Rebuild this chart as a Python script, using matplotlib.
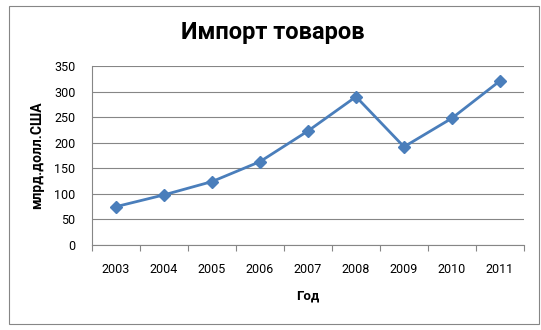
import numpy as np
import matplotlib
matplotlib.use('Agg')
import matplotlib.pyplot as plt
from matplotlib.patches import Rectangle

plt.rcParams['font.family'] = ['Roboto', 'DejaVu Sans']

# data
years = ['2003', '2004', '2005', '2006', '2007', '2008', '2009', '2010', '2011']
imports = [75, 98, 124, 163, 223, 290, 192, 248, 321]

W, H = 541, 330
fig = plt.figure(figsize=(W / 100, H / 100), dpi=100)

# outer chart border
fig.patches.append(Rectangle((8.5 / W, 1 - 323.5 / H), 530 / W, 318 / H,
                             transform=fig.transFigure, fill=False,
                             edgecolor='#868686', linewidth=0.8))

left, right, top, bottom = 92, 524, 66, 245
ax = fig.add_axes([left / W, 1 - bottom / H, (right - left) / W, (bottom - top) / H])

x = np.arange(len(years))
ax.plot(x, imports, color='#4a7ebb', linewidth=2.0, marker='D', markersize=6,
        markerfacecolor='#4a7ebb', markeredgecolor='#4a7ebb', zorder=5, clip_on=False)

ax.set_xlim(-0.5, len(years) - 0.5)
ax.set_ylim(0, 350)
ax.set_yticks(np.arange(0, 351, 50))
ax.set_xticks(x)
ax.set_xticklabels(years)
ax.set_xticks(np.arange(-0.5, len(years), 1), minor=True)

ax.grid(axis='y', color='#868686', linewidth=0.8)
ax.set_axisbelow(True)
for s in ['top', 'right']:
    ax.spines[s].set_visible(False)
for s in ['left', 'bottom']:
    ax.spines[s].set_color('#868686')
    ax.spines[s].set_linewidth(0.8)

ax.tick_params(axis='x', which='major', length=0, pad=13, labelsize=9)
ax.tick_params(axis='x', which='minor', length=4, color='#868686', width=0.8)
ax.tick_params(axis='y', length=0, pad=12, labelsize=9)

ax.set_xlabel('Год', fontsize=9.5, fontweight='bold', labelpad=10)
ax.set_ylabel('млрд.долл.США', fontsize=10, fontweight='bold', labelpad=7)

fig.text(273 / W, 1 - 33 / H, 'Импорт товаров', ha='center', va='center',
         fontsize=17, fontweight='bold')

fig.savefig('out.png', dpi=100)
